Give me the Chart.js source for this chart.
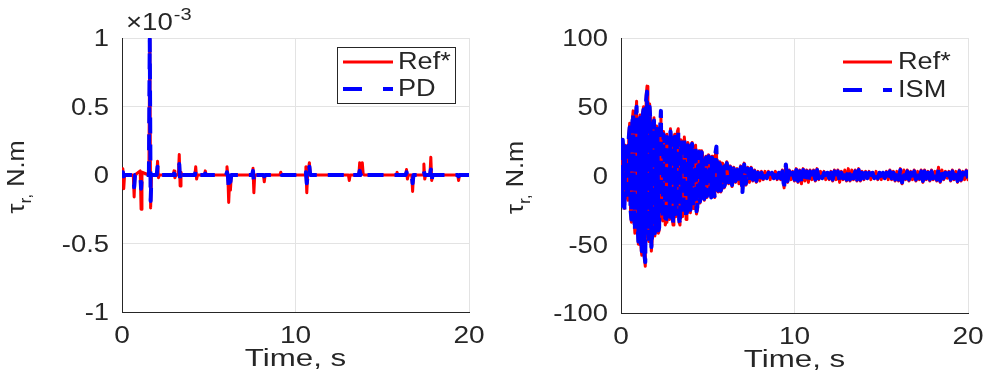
<!DOCTYPE html>
<html>
<head>
<meta charset="utf-8">
<script src="https://cdn.jsdelivr.net/npm/chart.js@4.4.1/dist/chart.umd.min.js"></script>
<style>
  html, body { margin: 0; padding: 0; background: #fff; }
  #wrap { position: relative; width: 987px; height: 385px; overflow: hidden; }
  #left { position: absolute; left: 0; top: 0; }
  #right { position: absolute; left: 493px; top: 0; }
</style>
</head>
<body>
<div id="wrap">
  <canvas id="left" width="493" height="385"></canvas>
  <canvas id="right" width="494" height="385"></canvas>
</div>
<script>
// ---- Left panel: PD controller torque against the reference (units of 1e-3 N.m)
const pdTime = [
  0, 0.05, 0.10, 0.15,
  0.65, 0.70, 0.75,
  1.05, 1.10, 1.15,
  1.55, 1.60, 1.65, 1.70,
  2.00, 2.05, 2.10, 2.15,
  2.95, 3.00, 3.05, 3.10,
  3.25, 3.30, 3.35, 3.40, 3.45,
  4.20, 4.25, 4.30, 4.35,
  4.75, 4.80, 4.85,
  6.00, 6.05, 6.10, 6.15, 6.20, 6.25, 6.30,
  7.50, 7.55, 7.60, 7.65,
  8.15, 8.20, 8.25,
  9.10, 9.15, 9.20,
  10.55, 10.60, 10.65, 10.70, 10.80, 10.85, 10.90,
  13.05, 13.10, 13.15,
  13.65, 13.70, 13.75, 13.85, 13.90, 13.95,
  15.80, 15.85, 15.90,
  16.35, 16.40, 16.45, 16.50, 16.70, 16.75, 16.80,
  17.35, 17.40, 17.45, 17.50,
  17.75, 17.80, 17.85, 17.90,
  19.35, 19.40, 19.45, 20
];
const pdRefTorque = [
  0, 0.045, -0.10, 0,
  0, -0.16, 0,
  0.03, -0.25, 0.02,
  0, 1.0, -0.24, 0,
  0, 0.10, -0.02, 0,
  0, 0.03, -0.02, 0,
  0, 0.15, -0.08, 0.02, 0,
  0, 0.06, -0.03, 0,
  0, 0.03, 0,
  0, 0.06, 0, -0.20, -0.05, -0.11, 0,
  0, 0.05, -0.13, 0,
  0, -0.05, 0,
  0, 0.02, 0,
  0, 0.06, -0.13, 0, 0.09, 0.01, 0,
  0, -0.04, 0,
  0, 0.09, 0, 0.09, 0.01, 0,
  0, 0.02, 0,
  0, 0.04, -0.03, 0, 0, -0.12, 0,
  0, 0.08, -0.03, 0,
  0, 0.13, -0.04, 0,
  0, -0.04, 0, 0
];
const pdTorque = [
  0, 0.02, -0.01, 0,
  0, -0.09, 0,
  0.01, -0.10, 0,
  0, 0.99, -0.19, 0,
  0, 0.06, 0, 0,
  0, 0.01, 0, 0,
  0, 0.08, -0.04, 0.01, 0,
  0, 0.03, -0.01, 0,
  0, 0.01, 0,
  0, 0.02, 0, -0.09, -0.03, -0.05, 0,
  0, 0.03, -0.05, 0,
  0, -0.01, 0,
  0, 0.01, 0,
  0, 0.02, -0.06, 0, 0.06, 0, 0,
  0, -0.01, 0,
  0, 0.03, 0, 0.03, 0, 0,
  0, 0, 0,
  0, 0.02, -0.01, 0, 0, -0.06, 0,
  0, 0.03, 0, 0,
  0, 0.04, -0.04, 0,
  0, -0.01, 0, 0
];

// ---- Right panel: ISM controller torque against the reference (N.m)
// 0 to 6 s logged every 0.05 s, 6 to 20 s logged every 0.1 s
const ismFineStep = 0.05;
const ismCoarseStart = 6;
const ismCoarseStep = 0.1;
const ismRefEarly = [
  0, -20, 25, 14, -24, 22, 20, -15, -18, 30, 38, -26, -34, 40, 47, -30, -42, 44, 54, -36,
  -50, 30, 44, -52, -58, 46, 50, -60, -66, 58, 65, -40, -48, 52, 40, -55, -46, 38, 42, -44,
  -38, 36, 30, -42, -40, 35, 46, -28, -33, 32, 28, -36, -34, 30, 20, -26, -32, 34, 26, -30,
  -36, 28, 30, -30, -28, 32, 34, -34, -36, 26, 25, -30, -22, 28, 20, -32, -30, 24, 22, -26,
  -27, 22, 24, -24, -20, 20, 22, -28, -25, 16, 18, -20, -16, 18, 15, -16, -18, 12, 14, -16,
  -14, 15, 12, -12, -15, 14, 10, -13, -16, 18, 20, -11, -12, 10, 9, -12, -10, 9, 8, -9
];
const ismEarly = [
  0, -22, 26, 13, -25, 21, 19, -14, -17, 28, 35, -25, -32, 38, 44, -28, -39, 42, 50, -34,
  -48, 28, 42, -50, -55, 44, 48, -58, -63, 55, 61, -38, -46, 50, 38, -52, -43, 36, 40, -42,
  -36, 34, 28, -40, -38, 33, 47, -26, -30, 30, 26, -34, -32, 28, 18, -24, -30, 32, 24, -28,
  -35, 26, 28, -28, -27, 30, 32, -32, -35, 24, 24, -28, -20, 26, 19, -30, -28, 22, 21, -24,
  -25, 21, 23, -22, -19, 19, 21, -26, -23, 15, 17, -19, -15, 17, 13, -15, -17, 11, 13, -15,
  -13, 14, 11, -11, -16, 13, 9, -12, -15, 17, 21, -10, -11, 9, 8, -11, -9, 8, 7, -8
];
const ismRefLate = [
  -7, 10, -6, 7, -8, 6, -5, 5, -6, 7,
  -11, 9, -7, 6, -5, 6, -4, 4, -5, 3,
  -4, 3, -3, 3, -2, 3, -3, 2, -2, 3,
  -3, 2, -3, 4, -9, 8, -5, 4, -3, 3,
  -4, 5, -5, 4, -6, 5, -4, 4, -5, 4,
  -3, 4, -4, 5, -3, 3, -2, 3, -3, 2,
  -3, 3, -4, 4, -3, 4, -5, 3, -3, 4,
  -4, 5, -4, 4, -3, 4, -4, 5, -4, 3,
  -3, 3, -2, 3, -3, 2, -2, 3, -3, 2,
  -3, 2, -2, 3, -3, 4, -3, 3, -4, 3,
  -4, 5, -6, 4, -3, 4, -4, 3, -3, 4,
  -4, 3, -3, 4, -5, 4, -3, 3, -4, 4,
  -3, 3, -4, 6, -5, 4, -3, 3, -2, 3,
  -4, 4, -3, 3, -5, 4, -4, 3, -3, 4,
  -3
];
const ismLate = [
  -6, 9, -5, 6, -7, 5, -4, 4, -5, 6,
  -12, 8, -6, 5, -4, 5, -3, 3, -4, 2,
  -3, 2, -2, 2, -2, 2, -2, 2, -2, 2,
  -2, 2, -2, 3, -9, 8, -4, 3, -2, 2,
  -3, 4, -4, 3, -5, 4, -3, 3, -4, 3,
  -2, 3, -3, 4, -2, 2, -2, 2, -2, 2,
  -2, 2, -3, 3, -2, 3, -4, 2, -2, 3,
  -3, 4, -3, 3, -2, 3, -3, 4, -3, 2,
  -2, 2, -2, 2, -2, 2, -2, 2, -2, 2,
  -2, 2, -2, 2, -2, 3, -2, 2, -3, 2,
  -3, 4, -5, 3, -2, 3, -3, 2, -2, 3,
  -3, 2, -2, 3, -4, 3, -2, 2, -3, 3,
  -2, 2, -3, 5, -4, 3, -2, 2, -2, 2,
  -3, 3, -2, 2, -4, 3, -3, 2, -2, 3,
  -2
];

// ---- Axis ticks
const timeTicks = [0, 10, 20];
const pdTicks = [-1, -0.5, 0, 0.5, 1];
const ismTicks = [-100, -50, 0, 50, 100];

// ---- Styling helpers
const INK = '#262626';
const GRID = '#e3e3e3';
const RED = '#ff0000';
const BLUE = '#0000ff';
const FONT = '"Liberation Sans", Arial, Helvetica, sans-serif';

function wideText(ctx, str, x, y, size, align, sx) {
  ctx.save();
  ctx.font = size + 'px ' + FONT;
  const w = ctx.measureText(str).width * sx;
  let left = x;
  if (align === 'center') left = x - w / 2;
  else if (align === 'right') left = x - w;
  ctx.translate(left, y);
  ctx.scale(sx, 1);
  ctx.fillStyle = INK;
  ctx.textAlign = 'left';
  ctx.textBaseline = 'middle';
  ctx.fillText(str, 0, 0);
  ctx.restore();
  return w;
}

function drawYTitle(ctx, cx, cy) {
  const big = '23px ' + FONT;
  const small = '16px ' + FONT;
  const sx = 1.1;
  ctx.save();
  ctx.fillStyle = INK;
  ctx.textBaseline = 'alphabetic';
  ctx.textAlign = 'left';
  ctx.font = big; const wTau = ctx.measureText('τ').width;
  ctx.font = small; const wSub = ctx.measureText('r,').width;
  ctx.font = big; const wRest = ctx.measureText(' N.m').width;
  const total = wTau + wSub + wRest;
  ctx.translate(cx, cy);
  ctx.rotate(-Math.PI / 2);
  ctx.scale(sx, 1);
  let x = -total / 2;
  ctx.font = big; ctx.fillText('τ', x, 0); x += wTau;
  ctx.font = small; ctx.fillText('r,', x, 7); x += wSub;
  ctx.font = big; ctx.fillText(' N.m', x, 0);
  ctx.restore();
}

function fmt(v) { return String(v); }

// Draws tick labels, axis titles, legend and the exponent note for one panel
function panelDecor(cfg) {
  return {
    id: 'panelDecor',
    afterDraw(chart) {
      const ctx = chart.ctx;
      const area = chart.chartArea;
      const xs = chart.scales.x, ys = chart.scales.y;
      ys.ticks.forEach(t => wideText(ctx, fmt(t.value), area.left - 13, ys.getPixelForValue(t.value) + 2, 23, 'right', 1.19));
      xs.ticks.forEach(t => wideText(ctx, fmt(t.value), xs.getPixelForValue(t.value), area.bottom + 25, 23, 'center', 1.22));
      wideText(ctx, 'Time, s', (area.left + area.right) / 2, area.bottom + 48, 23, 'center', 1.36);
      drawYTitle(ctx, cfg.yTitleX, (area.top + area.bottom) / 2 + 2);

      if (cfg.exponent) {
        const w = wideText(ctx, '×10', area.left + 4, 24, 23, 'left', 1.2);
        wideText(ctx, '-3', area.left + 4 + w + 1, 16, 16, 'left', 1.25);
      }

      const lg = cfg.legend;
      if (lg.box) {
        ctx.save();
        ctx.fillStyle = '#ffffff';
        ctx.strokeStyle = INK;
        ctx.lineWidth = 1;
        ctx.fillRect(lg.box[0], lg.box[1], lg.box[2], lg.box[3]);
        ctx.strokeRect(lg.box[0], lg.box[1], lg.box[2], lg.box[3]);
        ctx.restore();
      }
      const entries = [chart.data.datasets[1], chart.data.datasets[0]];
      entries.forEach((ds, i) => {
        const y = lg.rows[i];
        ctx.save();
        ctx.strokeStyle = ds.borderColor;
        ctx.lineWidth = ds.borderWidth;
        ctx.setLineDash(ds.borderDash ? [19, 21] : []);
        ctx.beginPath();
        ctx.moveTo(lg.x0, y);
        ctx.lineTo(lg.x1, y);
        ctx.stroke();
        ctx.restore();
        wideText(ctx, ds.label, lg.textX, y + 1, 23, 'left', 1.18);
      });
    }
  };
}

function axis(values, min, max, fit) {
  return {
    type: 'linear',
    min: min,
    max: max,
    afterBuildTicks: s => { s.ticks = values.map(v => ({ value: v })); },
    afterFit: fit,
    ticks: { display: false },
    grid: { color: GRID, lineWidth: 1, drawTicks: false, tickLength: 0 },
    border: { display: true, color: INK, width: 1 }
  };
}

function makePanel(canvasId, series, yTicks, yMin, yMax, geo, decor) {
  return new Chart(document.getElementById(canvasId), {
    type: 'line',
    data: {
      datasets: [
        {
          label: series.ctrlLabel,
          data: series.ctrl,
          borderColor: BLUE,
          borderWidth: 4,
          borderDash: geo.dash,
          borderJoinStyle: 'round',
          pointRadius: 0,
          tension: 0,
          order: 0
        },
        {
          label: 'Ref*',
          data: series.ref,
          borderColor: RED,
          borderWidth: 3,
          borderJoinStyle: 'round',
          borderCapStyle: 'round',
          pointRadius: 0,
          tension: 0,
          order: 1
        }
      ]
    },
    options: {
      responsive: false,
      animation: false,
      devicePixelRatio: 1,
      layout: { padding: { top: geo.top, right: geo.right, left: 0, bottom: 0 } },
      scales: {
        x: axis(timeTicks, 0, 20, s => { s.height = geo.bottomBand; }),
        y: axis(yTicks, yMin, yMax, s => { s.width = geo.leftBand; })
      },
      plugins: { legend: { display: false }, tooltip: { enabled: false } }
    },
    plugins: [panelDecor(decor)]
  });
}

function ismPoints(early, late) {
  const a = early.map((v, i) => ({ x: +(i * ismFineStep).toFixed(2), y: v }));
  const b = late.map((v, j) => ({ x: +(ismCoarseStart + j * ismCoarseStep).toFixed(2), y: v }));
  return a.concat(b);
}

const pdSeries = {
  ctrlLabel: 'PD',
  ref: pdTime.map((t, i) => ({ x: t, y: pdRefTorque[i] })),
  ctrl: pdTime.map((t, i) => ({ x: t, y: pdTorque[i] }))
};
const ismSeries = {
  ctrlLabel: 'ISM',
  ref: ismPoints(ismRefEarly, ismRefLate),
  ctrl: ismPoints(ismEarly, ismLate)
};

makePanel('left', pdSeries, pdTicks, -1, 1,
  { top: 38, right: 24, leftBand: 122, bottomBand: 73, dash: [16, 11] },
  { yTitleX: 24, exponent: true,
    legend: { box: [337.5, 47.5, 118, 56], x0: 343, x1: 393, textX: 398, rows: [62, 89] } });

makePanel('right', ismSeries, ismTicks, -100, 100,
  { top: 38, right: 19, leftBand: 128, bottomBand: 72, dash: [14, 5] },
  { yTitleX: 30, exponent: false,
    legend: { box: null, x0: 350, x1: 399, textX: 405, rows: [62, 90] } });
</script>
</body>
</html>
